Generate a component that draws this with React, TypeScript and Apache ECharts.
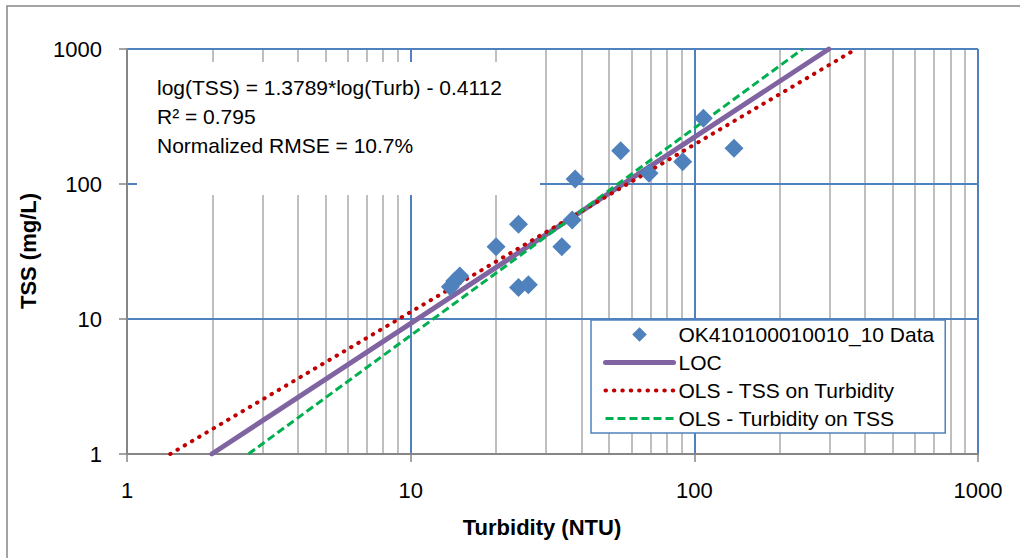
import React, { useEffect, useRef } from "react";
import * as echarts from "echarts";

// ---- data ----
const seriesNames = [
  "OK410100010010_10 Data",
  "LOC",
  "OLS - TSS on Turbidity",
  "OLS - Turbidity on TSS",
];
const turbidity = [13.8, 14.3, 14.9, 20.0, 24.0, 24.0, 26.0, 34.1, 37.1, 38.0, 55.0, 69.2, 91.0, 107.6, 138.0];
const tss = [17.3, 19.1, 20.8, 34.3, 50.3, 17.1, 17.9, 34.3, 54.1, 108.9, 176.5, 120.0, 146.3, 306.7, 183.8];
const locLine = [[1.99, 1], [298, 1000]];
const olsTssOnTurb = [[1.42, 1], [372, 1000]];
const olsTurbOnTss = [[2.68, 1], [241, 1000]];
const axisTicks = [1, 10, 100, 1000];
const minorGridValues = [2, 3, 4, 5, 6, 7, 8, 9, 20, 30, 40, 50, 60, 70, 80, 90, 200, 300, 400, 500, 600, 700, 800, 900];
const annotationLines = [
  "log(TSS) = 1.3789*log(Turb) - 0.4112",
  "R\u00B2 = 0.795",
  "Normalized RMSE = 10.7%",
];
const xTitle = "Turbidity (NTU)";
const yTitle = "TSS (mg/L)";

const FONT = "'Liberation Sans', Arial, sans-serif";
const BLUE = "#4F81BD";
const AXIS_GRAY = "#868686";
// diamond centred in a 70x15 legend box (tiny corner segments fix the box size)
const LEGEND_DIAMOND = "path://M0,0L0.01,0M70,15L69.99,15M35,0L42.5,7.5L35,15L27.5,7.5Z";

const LOC_STYLE = { color: "#8064A2", width: 5, type: "solid", cap: "round" };
const OLS1_STYLE = { color: "#C00000", width: 4, type: [0.5, 7.9], cap: "round" };
const OLS2_STYLE = { color: "#00B050", width: 3, type: [8, 4], cap: "butt" };

export default function App() {
  const ref = useRef<HTMLDivElement>(null);

  useEffect(() => {
    if (!ref.current) return;
    const chart = echarts.init(ref.current, undefined, { renderer: "svg" });
    const scatterData = turbidity.map((t, i) => [t, tss[i]]);
    const labelFmt = (v: number) => {
      const m = axisTicks.find((t) => Math.abs(t - v) < 1e-6 * t);
      return m !== undefined ? String(m) : "";
    };
    const axisCommon = {
      type: "log",
      logBase: 10,
      min: axisTicks[0],
      max: axisTicks[axisTicks.length - 1],
      z: 1,
      axisLine: { show: true, lineStyle: { color: AXIS_GRAY, width: 2 } },
      axisTick: { show: true, length: 8, lineStyle: { color: AXIS_GRAY, width: 1.5 } },
      splitLine: {
        show: true,
        lineStyle: { color: [AXIS_GRAY, BLUE, BLUE, BLUE], width: 2 },
      },
      minorTick: { show: false },
      minorSplitLine: { show: false },
    };
    const hiddenSymbol = { color: "rgba(0,0,0,0)", opacity: 0, borderWidth: 0 };
    const lineStyles = [null, LOC_STYLE, OLS1_STYLE, OLS2_STYLE];
    chart.setOption({
      animation: false,
      backgroundColor: "#ffffff",
      textStyle: { fontFamily: FONT },
      grid: { left: 127, right: 42, top: 49, bottom: 104, containLabel: false },
      xAxis: {
        ...axisCommon,
        axisLabel: { formatter: labelFmt, fontSize: 22, color: "#000", fontFamily: FONT, margin: 25 },
      },
      yAxis: {
        ...axisCommon,
        axisLabel: { formatter: labelFmt, fontSize: 22, color: "#000", fontFamily: FONT, margin: 25 },
      },
      legend: {
        data: seriesNames.map((n, i) =>
          i === 0
            ? { name: n, icon: LEGEND_DIAMOND }
            : { name: n, itemStyle: hiddenSymbol, lineStyle: { ...lineStyles[i], opacity: 1 } }
        ),
        orient: "vertical",
        left: 591,
        top: 320,
        align: "left",
        itemWidth: 68,
        itemHeight: 15,
        itemGap: 7,
        symbolKeepAspect: true,
        padding: [4, 11, 4, 12],
        backgroundColor: "#ffffff",
        borderColor: BLUE,
        borderWidth: 1.5,
        borderRadius: 0,
        z: 10,
        textStyle: { fontSize: 21, color: "#000", fontFamily: FONT, lineHeight: 21 },
      },
      series: [
        {
          name: "minorGrid",
          type: "line",
          data: [],
          z: 0.5,
          silent: true,
          markLine: {
            silent: true,
            z: 0.5,
            symbol: ["none", "none"],
            label: { show: false },
            animation: false,
            lineStyle: { color: "#BFBFBF", width: 2, type: "solid" },
            emphasis: { disabled: true },
            data: minorGridValues.map((v) => ({ xAxis: v })),
          },
        },
        {
          name: seriesNames[1],
          type: "line",
          data: locLine,
          symbol: "none",
          z: 3,
          lineStyle: LOC_STYLE,
          itemStyle: { color: LOC_STYLE.color },
        },
        {
          name: seriesNames[2],
          type: "line",
          data: olsTssOnTurb,
          symbol: "none",
          z: 3,
          lineStyle: OLS1_STYLE,
          itemStyle: { color: OLS1_STYLE.color },
        },
        {
          name: seriesNames[3],
          type: "line",
          data: olsTurbOnTss,
          symbol: "none",
          z: 3,
          lineStyle: OLS2_STYLE,
          itemStyle: { color: OLS2_STYLE.color },
        },
        {
          name: seriesNames[0],
          type: "scatter",
          data: scatterData,
          symbol: "diamond",
          symbolSize: 19,
          z: 4,
          itemStyle: { color: BLUE, opacity: 1 },
        },
      ],
      graphic: [
        {
          type: "rect",
          silent: true,
          shape: { x: 7, y: 6, width: 1030, height: 570 },
          style: { fill: "none", stroke: AXIS_GRAY, lineWidth: 1.5 },
          z: -1,
        },
        {
          type: "rect",
          silent: true,
          shape: { x: 137, y: 62, width: 403, height: 133 },
          style: { fill: "#ffffff", stroke: "none" },
          z: 6,
        },
        ...annotationLines.map((t, i) => ({
          type: "text",
          left: 157,
          top: 77 + i * 29,
          z: 7,
          style: { text: t, fill: "#000", font: `21px ${FONT}` },
        })),
        {
          type: "text",
          x: 542,
          y: 527,
          z: 7,
          style: {
            text: xTitle,
            fill: "#000",
            font: `bold 22px ${FONT}`,
            textAlign: "center",
            textVerticalAlign: "middle",
          },
        },
        {
          type: "text",
          x: 28,
          y: 251,
          rotation: Math.PI / 2,
          z: 7,
          style: {
            text: yTitle,
            fill: "#000",
            font: `bold 22px ${FONT}`,
            textAlign: "center",
            textVerticalAlign: "middle",
          },
        },
      ],
    });
    return () => chart.dispose();
  }, []);

  return (
    <div
      ref={ref}
      style={{ position: "fixed", left: 0, top: 0, width: 1020, height: 558, background: "#fff" }}
    />
  );
}
